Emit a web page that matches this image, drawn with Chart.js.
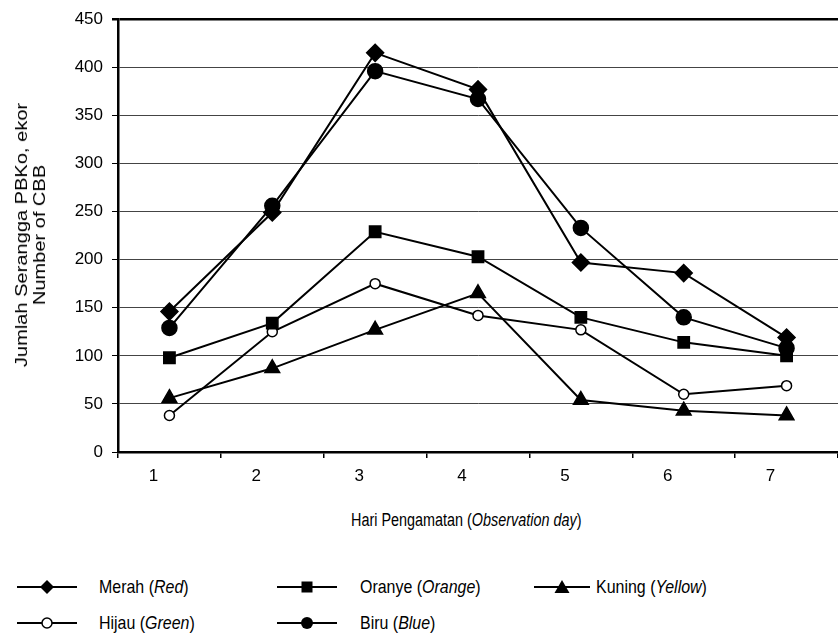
<!DOCTYPE html>
<html>
<head>
<meta charset="utf-8">
<script src="https://cdn.jsdelivr.net/npm/chart.js@4.4.1/dist/chart.umd.min.js"></script>
<style>
  body{margin:0;overflow:hidden;background:#fff;width:838px;height:635px;position:relative;
    font-family:"Liberation Sans Narrow","Liberation Sans",Arial,sans-serif;font-size:16px;color:#000}
  #wrap{position:absolute;left:0;top:0;width:848px;height:490px}
  .xtitle{position:absolute;left:351px;top:510px;white-space:nowrap;font-size:18px;
    transform:scaleX(0.8);transform-origin:left center}
  .ytitle{position:absolute;left:31px;top:235px;white-space:nowrap;font-size:17px;line-height:18px;
    text-align:center;transform:translate(-50%,-50%) rotate(-90deg) scaleX(1.18)}
  .leg{position:absolute;white-space:nowrap;line-height:20px;height:20px}
  .leg svg{position:absolute;top:2px;left:0}
  .leg span{position:absolute;top:0;font-size:19px;transform:scaleX(0.84);transform-origin:left center}
</style>
</head>
<body>
<div id="wrap"><canvas id="cbbChart" width="848" height="490"></canvas></div>
<div class="ytitle">Jumlah Serangga PBKo, ekor<br>Number of CBB</div>
<div class="xtitle">Hari Pengamatan (<i>Observation day</i>)</div>
<div id="legend"></div>
<script>
const days = ['1','2','3','4','5','6','7'];
const merah  = [146, 249, 415, 377, 197, 186, 119];
const oranye = [98, 134, 229, 203, 140, 114, 100];
const kuning = [56, 87, 127, 165, 54, 43, 38];
const hijau  = [38, 125, 175, 142, 127, 60, 69];
const biru   = [129, 256, 396, 367, 233, 140, 108];
const yTicks = [0, 50, 100, 150, 200, 250, 300, 350, 400, 450];

const fontFam = '"Liberation Sans Narrow","Liberation Sans",Arial,sans-serif';

function ds(label, data, style, radius, fill){
  return {
    label: label, data: data,
    borderColor: '#000', borderWidth: 2, tension: 0,
    pointStyle: style, pointRadius: radius, pointHoverRadius: radius,
    pointBackgroundColor: fill, pointBorderColor: '#000', pointBorderWidth: 1.5
  };
}

new Chart('cbbChart', {
  type: 'line',
  data: {
    labels: days,
    datasets: [
      ds('Merah (Red)', merah, 'rectRot', 8.5, '#000'),
      ds('Biru (Blue)', biru, 'circle', 7.5, '#000'),
      ds('Oranye (Orange)', oranye, 'rect', 8, '#000'),
      ds('Hijau (Green)', hijau, 'circle', 5, '#fff'),
      ds('Kuning (Yellow)', kuning, 'triangle', 8.5, '#000')
    ]
  },
  options: {
    responsive: false,
    animation: false,
    layout: {padding: {top: 16, left: 0, right: 0, bottom: 0}},
    plugins: {legend: {display: false}, tooltip: {enabled: false}},
    scales: {
      x: {
        offset: true,
        grid: {offset: true, drawOnChartArea: false, tickLength: 6, tickColor: '#000', lineWidth: 1.5},
        border: {color: '#000', width: 2.5},
        ticks: {color: '#000', padding: 8, labelOffset: -16, font: {family: fontFam, size: 17}},
        afterFit: s => { s.height = 38; }
      },
      y: {
        min: 0, max: 450,
        afterBuildTicks: s => { s.ticks = yTicks.map(v => ({value: v})); },
        grid: {
          color: c => c.tick && c.tick.value === 450 ? '#000' : '#444',
          lineWidth: c => c.tick && c.tick.value === 450 ? 2.5 : 1,
          tickLength: 6, tickColor: '#000'
        },
        border: {color: '#000', width: 2.5},
        ticks: {color: '#000', padding: 9, font: {family: fontFam, size: 17}},
        afterFit: s => { s.width = 118; }
      }
    }
  }
});

// legend built as html so the italic part stays italic
const legendItems = [
  {name: 'Merah', en: 'Red', mark: 'diamond', x: 17, y: 577, line: 60, text: 82},
  {name: 'Oranye', en: 'Orange', mark: 'square', x: 277, y: 577, line: 60, text: 83},
  {name: 'Kuning', en: 'Yellow', mark: 'triangle', x: 534, y: 577, line: 56, text: 62},
  {name: 'Hijau', en: 'Green', mark: 'open', x: 17, y: 613, line: 60, text: 82},
  {name: 'Biru', en: 'Blue', mark: 'dot', x: 277, y: 613, line: 60, text: 83}
];
function markSvg(m, w){
  const c = w / 2;
  let s = '<svg width="' + w + '" height="16" viewBox="0 0 ' + w + ' 16"><line x1="0" y1="8" x2="' + w + '" y2="8" stroke="#000" stroke-width="2"/>';
  if(m==='diamond') s += '<polygon points="' + c + ',1 ' + (c+7) + ',8 ' + c + ',15 ' + (c-7) + ',8" fill="#000"/>';
  if(m==='square') s += '<rect x="' + (c-5.5) + '" y="2.5" width="11" height="11" fill="#000"/>';
  if(m==='triangle') s += '<polygon points="' + c + ',1 ' + (c+7.5) + ',14 ' + (c-7.5) + ',14" fill="#000"/>';
  if(m==='open') s += '<circle cx="' + c + '" cy="8" r="5" fill="#fff" stroke="#000" stroke-width="1.5"/>';
  if(m==='dot') s += '<circle cx="' + c + '" cy="8" r="6" fill="#000"/>';
  return s + '</svg>';
}
const leg = document.getElementById('legend');
legendItems.forEach(it => {
  const d = document.createElement('div');
  d.className = 'leg';
  d.style.left = it.x + 'px';
  d.style.top = it.y + 'px';
  d.innerHTML = markSvg(it.mark, it.line) + '<span style="left:' + it.text + 'px">' + it.name + ' (<i>' + it.en + '</i>)</span>';
  leg.appendChild(d);
});
</script>
</body>
</html>
